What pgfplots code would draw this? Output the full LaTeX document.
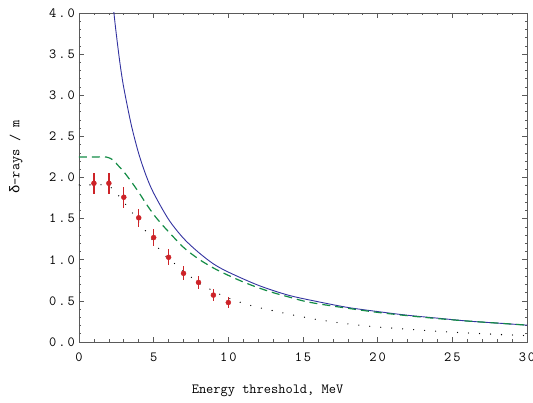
\documentclass[border=0pt]{standalone}
\usepackage{fontspec}
\newfontfamily\grk{Liberation Mono}
\usepackage{pgfplots}
\pgfplotsset{compat=1.18}
\definecolor{cblue}{RGB}{50,50,160}
\definecolor{cgreen}{RGB}{20,140,70}
\definecolor{cred}{RGB}{205,35,40}
\definecolor{cframe}{RGB}{90,90,90}
\newcommand\lfont{\ttfamily\addfontfeature{LetterSpace=14}\fontsize{14pt}{16pt}\selectfont}
\newcommand\ks{\kern2pt}
\begin{document}
\lfont
\begin{tikzpicture}[every node/.append style={font=\lfont}]
\begin{axis}[
  name=ax, at={(0,0)}, anchor=south west,
  scale only axis, width=448pt, height=329pt,
  xmin=0, xmax=30, ymin=0, ymax=4,
  xtick={0,5,10,15,20,25,30},
  xticklabels={0,5,1\ks0,1\ks5,2\ks0,2\ks5,3\ks0},
  ytick={0,0.5,1,1.5,2,2.5,3,3.5,4},
  yticklabels={0\ks.\ks0,0\ks.\ks5,1\ks.\ks0,1\ks.\ks5,2\ks.\ks0,2\ks.\ks5,3\ks.\ks0,3\ks.\ks5,4\ks.\ks0},
  minor x tick num=4, minor y tick num=4,
  tick align=inside,
  major tick length=5pt, minor tick length=2.5pt,
  axis line style={cframe, line width=0.7pt},
  every tick/.style={cframe, line width=0.6pt},
  tick label style={font=\lfont},
  xticklabel style={inner sep=0pt, anchor=north, yshift=-11pt},
  yticklabel style={inner sep=0pt, anchor=east, xshift=-4pt},
  xlabel={Energy threshold, MeV},
  ylabel={{\grk\fontsize{14pt}{16pt}\selectfont δ}-rays / m},
  label style={font=\lfont},
  xlabel style={at={(axis description cs:0.4208,-0.149)}, anchor=center, inner sep=0pt},
  ylabel style={at={(axis description cs:-0.1406,0.5623)}, anchor=center, inner sep=0pt, rotate=0},
  clip=true,
]
% blue solid curve
\addplot[cblue, line width=0.9pt, smooth] coordinates {
(2.2,4.27) (2.34,4.00) (2.5,3.74) (2.75,3.38) (3,3.09) (3.5,2.64) (4,2.29)
(4.5,2.02) (5,1.81) (6,1.49) (7,1.26) (8,1.09) (9,0.95) (10,0.85)
(12,0.69) (14,0.57) (16,0.49) (18,0.42) (20,0.37) (22,0.325) (24,0.29)
(26,0.255) (28,0.23) (30,0.205)
};
% green dashed curve
\addplot[cgreen, line width=1.2pt, dash pattern=on 8pt off 5pt, smooth] coordinates {
(0,2.25) (1,2.25) (1.8,2.25) (2.0,2.24) (2.3,2.21) (2.6,2.15) (3.0,2.07)
(3.5,1.95) (4,1.82) (4.5,1.68) (5,1.55) (5.5,1.44) (6,1.34) (7,1.15)
(8,1.01) (9,0.90) (10,0.81) (11,0.73) (12,0.66) (13,0.60) (14,0.55)
(15,0.50) (16,0.465) (18,0.41) (20,0.36) (22,0.32) (24,0.285) (26,0.255)
(28,0.23) (30,0.205)
};
% black dotted curve
\addplot[black, line width=1.3pt, line cap=round, dash pattern=on 0pt off 11pt, smooth] coordinates {
(0,1.91) (1,1.91) (1.8,1.91) (2.2,1.87) (2.6,1.79) (3,1.70) (3.5,1.59)
(4,1.46) (4.5,1.34) (5,1.22) (5.5,1.10) (6,1.01) (6.5,0.94) (7,0.86)
(7.5,0.79) (8,0.72) (8.5,0.67) (9,0.62) (9.5,0.575) (10,0.535) (11,0.47)
(12,0.42) (13,0.38) (14,0.34) (15,0.305) (16,0.27) (17,0.245) (18,0.22)
(19,0.20) (20,0.182) (22,0.155) (24,0.13) (26,0.11) (28,0.092) (30,0.077)
};
% data with error bars
\addplot[cred, only marks, mark=*, mark size=2.5pt,
  error bars/.cd, y dir=both, y explicit,
  error bar style={cred, line width=1.4pt}, error mark=none]
  coordinates {
(1,1.93) +- (0,0.13)
(2,1.93) +- (0,0.13)
(3,1.76) +- (0,0.13)
(4,1.51) +- (0,0.11)
(5,1.27) +- (0,0.10)
(6,1.03) +- (0,0.095)
(7,0.835) +- (0,0.085)
(8,0.725) +- (0,0.08)
(9,0.57) +- (0,0.07)
(10,0.48) +- (0,0.065)
};
\end{axis}
\pgfresetboundingbox
\path (ax.south west) ++(-79pt,-61pt) rectangle ++(533pt,403pt);
\end{tikzpicture}
\end{document}
